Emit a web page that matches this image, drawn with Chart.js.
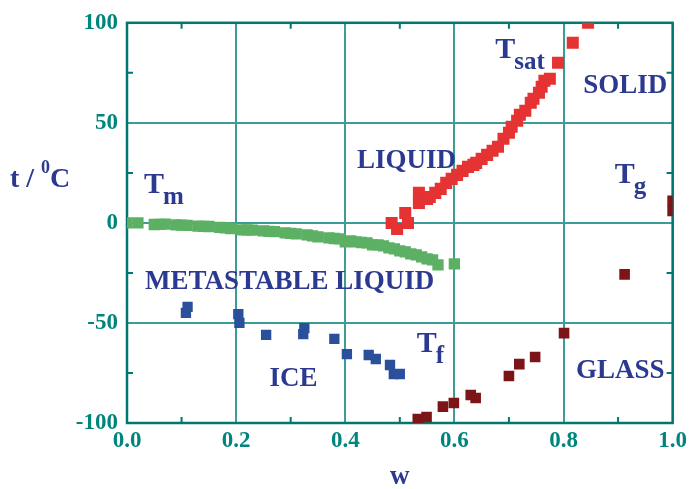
<!DOCTYPE html>
<html>
<head>
<meta charset="utf-8">
<script src="https://cdn.jsdelivr.net/npm/chart.js@4"></script>
<style>
body { margin: 0; background: #fff; }
#grafica { display: block; }
</style>
</head>
<body>
<canvas id="grafica" width="691" height="489"></canvas>
<script>
// melting curve of ice (Tm)
const wMelt = [0.00, 0.02, 0.05, 0.06, 0.07, 0.09, 0.10, 0.11, 0.13, 0.14, 0.15, 0.17, 0.18, 0.19, 0.21, 0.22, 0.23, 0.25, 0.26, 0.27, 0.29, 0.30, 0.31, 0.33, 0.34, 0.35, 0.37, 0.38, 0.39, 0.40, 0.41, 0.42, 0.43, 0.44, 0.45, 0.46, 0.47, 0.48, 0.49, 0.50, 0.51, 0.52, 0.53, 0.54, 0.55, 0.56, 0.57, 0.60];
const tMelt = [0, 0, -0.8, -0.7, -0.6, -1, -1.1, -1.2, -1.6, -1.7, -1.8, -2.2, -2.5, -2.8, -3.5, -3.5, -3.6, -4, -4.2, -4.4, -5, -5.2, -5.5, -6, -6.5, -7, -7.5, -7.8, -8, -9.5, -9, -9.5, -9.8, -10, -11, -11, -11.5, -12.5, -13, -14, -14.5, -15.5, -16, -17, -18, -18.5, -21, -20.5];

// solubility curve (Tsat)
const wSat = [0.485, 0.495, 0.51, 0.515, 0.535, 0.535, 0.55, 0.555, 0.565, 0.575, 0.585, 0.595, 0.605, 0.615, 0.625, 0.635, 0.64, 0.65, 0.66, 0.67, 0.68, 0.69, 0.70, 0.705, 0.715, 0.72, 0.73, 0.74, 0.745, 0.755, 0.76, 0.765, 0.775, 0.79, 0.817, 0.845];
const tSat = [0, -3, 5, 0, 15, 10, 12, 13, 15, 17, 20, 22, 24, 26, 28, 29, 30, 32, 34, 36, 38, 42, 45, 48, 51, 54, 56, 60, 62, 65, 68, 71, 72, 80, 90, 100];

// freezing points (Tf)
const wFreeze = [0.111, 0.108, 0.204, 0.206, 0.255, 0.325, 0.323, 0.38, 0.403, 0.443, 0.456, 0.482, 0.489, 0.50];
const tFreeze = [-42, -45, -45.6, -50, -56, -52.6, -55.6, -58, -65.6, -66, -68, -71, -75.6, -75.5];

// glass transition (Tg)
const wGlass = [0.533, 0.549, 0.579, 0.599, 0.63, 0.639, 0.70, 0.719, 0.748, 0.801, 0.912, 1.0, 1.0];
const tGlass = [-98, -97, -91.8, -90, -86, -87.5, -76.5, -70.6, -67, -55.1, -25.7, 11, 6];

const xTicks = [0, 0.2, 0.4, 0.6, 0.8, 1.0];
const yTicks = [-100, -50, 0, 50, 100];

// rotulos dentro de la grafica: texto, subindice, w, t
const rotulos = [
  ["T", "m", 0.031, 14.7],
  ["LIQUID", "", 0.4215, 27.2],
  ["T", "sat", 0.675, 82.5],
  ["SOLID", "", 0.836, 65.1],
  ["T", "g", 0.894, 19.7],
  ["METASTABLE LIQUID", "", 0.033, -33.2],
  ["ICE", "", 0.261, -81.5],
  ["T", "f", 0.531, -64.6],
  ["GLASS", "", 0.823, -77.6]
];

const par = (xs, ys) => xs.map((x, i) => ({ x: x, y: ys[i] }));

const SERIF = "'Liberation Serif', 'DejaVu Serif', serif";
const TEAL = "#00857d";
const GRID = "#3c9c97";
const AZUL = "#2b3990";

const extras = {
  id: "extras",
  beforeDatasetsDraw(chart) {
    const { ctx, chartArea: a, scales: { x, y } } = chart;
    ctx.save();
    ctx.strokeStyle = "#00786f";
    ctx.lineWidth = 2.5;
    ctx.strokeRect(a.left, a.top, a.right - a.left, a.bottom - a.top);
    // ticks menores hacia adentro
    ctx.lineWidth = 2;
    ctx.beginPath();
    for (let v = 0.1; v < 1; v += 0.2) {
      const px = x.getPixelForValue(v);
      ctx.moveTo(px, a.bottom); ctx.lineTo(px, a.bottom - 6);
      ctx.moveTo(px, a.top); ctx.lineTo(px, a.top + 6);
    }
    for (let v = -75; v < 100; v += 50) {
      const py = y.getPixelForValue(v);
      ctx.moveTo(a.left, py); ctx.lineTo(a.left + 6, py);
      ctx.moveTo(a.right, py); ctx.lineTo(a.right - 6, py);
    }
    ctx.stroke();
    ctx.restore();
  },
  afterDraw(chart) {
    const { ctx, chartArea: a, scales: { x, y } } = chart;
    ctx.save();
    ctx.fillStyle = AZUL;
    ctx.textBaseline = "alphabetic";
    ctx.textAlign = "left";
    rotulos.forEach(r => {
      const px = x.getPixelForValue(r[2]);
      const py = y.getPixelForValue(r[3]);
      if (r[1]) {
        ctx.font = "bold 30px " + SERIF;
        ctx.fillText(r[0], px, py);
        const ancho = ctx.measureText(r[0]).width;
        ctx.font = "bold 25px " + SERIF;
        ctx.fillText(r[1], px + ancho - 1, py + 11);
      } else {
        ctx.font = "bold 27px " + SERIF;
        ctx.fillText(r[0], px, py);
      }
    });
    // titulo del eje y: t / 0C
    ctx.font = "bold 28px " + SERIF;
    ctx.fillText("t / ", 10, 187);
    let pos = 10 + ctx.measureText("t / ").width;
    ctx.font = "bold 18px " + SERIF;
    ctx.fillText("0", pos, 173);
    pos += ctx.measureText("0").width;
    ctx.font = "bold 28px " + SERIF;
    ctx.fillText("C", pos, 187);
    // titulo del eje x
    ctx.textAlign = "center";
    ctx.font = "bold 27px " + SERIF;
    ctx.fillText("w", (a.left + a.right) / 2, 484);
    ctx.restore();
  }
};

new Chart(document.getElementById("grafica"), {
  type: "scatter",
  data: {
    datasets: [
      { label: "Tsat", data: par(wSat, tSat), pointStyle: "rect", pointRadius: 8.5, backgroundColor: "#e53232", borderWidth: 0, clip: 0 },
      { label: "Tm", data: par(wMelt, tMelt), pointStyle: "rect", pointRadius: 8, backgroundColor: "#5cb064", borderWidth: 0, clip: 0 },
      { label: "Tf", data: par(wFreeze, tFreeze), pointStyle: "rect", pointRadius: 7.3, backgroundColor: "#2a509c", borderWidth: 0, clip: 0 },
      { label: "Tg", data: par(wGlass, tGlass), pointStyle: "rect", pointRadius: 7.5, backgroundColor: "#7b1518", borderWidth: 0, clip: 0 }
    ]
  },
  options: {
    responsive: false,
    animation: false,
    layout: { padding: { top: 22, right: 16, left: 0, bottom: 0 } },
    plugins: { legend: { display: false }, tooltip: { enabled: false } },
    scales: {
      x: {
        type: "linear",
        min: 0,
        max: 1,
        afterBuildTicks: s => { s.ticks = xTicks.map(v => ({ value: v })); },
        afterFit: s => { s.height = 66; },
        ticks: {
          callback: v => v.toFixed(1),
          color: TEAL,
          font: { family: SERIF, size: 23, weight: "bold" },
          padding: 4,
          maxRotation: 0
        },
        grid: { color: GRID, lineWidth: 2, drawTicks: false },
        border: { display: false }
      },
      y: {
        type: "linear",
        min: -100,
        max: 100,
        afterBuildTicks: s => { s.ticks = yTicks.map(v => ({ value: v })); },
        afterFit: s => { s.width = 127; },
        ticks: {
          color: TEAL,
          font: { family: SERIF, size: 23, weight: "bold" },
          padding: 9
        },
        grid: { color: GRID, lineWidth: 2, drawTicks: false },
        border: { display: false }
      }
    }
  },
  plugins: [extras]
});
</script>
</body>
</html>
